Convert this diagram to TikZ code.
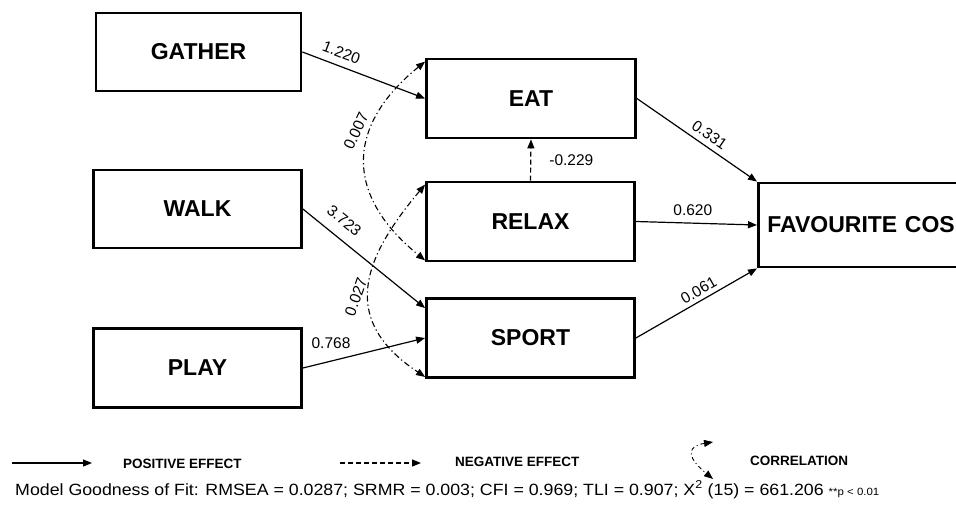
\documentclass[tikz,border=0pt]{standalone}
\usepackage{fontspec}
\setmainfont{Liberation Sans}
\usetikzlibrary{arrows.meta,calc}

\begin{document}
\begin{tikzpicture}[x=1pt,y=-1pt,
  box/.style={draw, line width=2.8pt, inner sep=0pt,
    font=\fontsize{23}{27}\selectfont\bfseries},
  tip/.tip={Triangle[length=9pt,width=7pt]},
  effect/.style={line width=1.2pt, -tip},
  negeffect/.style={effect, dash pattern=on 5pt off 3pt},
  corr/.style={line width=1.1pt, dash pattern=on 6pt off 3pt on 1.2pt off 3pt, tip-tip},
  coef/.style={font=\fontsize{15.5}{18}\selectfont, inner sep=1pt},
  legtext/.style={font=\fontsize{13.5}{16}\selectfont\bfseries, anchor=west, inner sep=0pt},
]
\useasboundingbox (0,0) rectangle (956,509);
\clip (0,0) rectangle (956,509);

% exogenous activities
\node[box, minimum width=205pt, minimum height=78pt] (gather) at (198.5,52) {GATHER};
\node[box, minimum width=208pt, minimum height=78pt] (walk)   at (197.5,209) {WALK};
\node[box, minimum width=208pt, minimum height=79pt] (play)   at (197.5,368) {PLAY};

% mediators
\node[box, minimum width=209pt, minimum height=79pt] (eat)   at (531,98.5) {EAT};
\node[box, minimum width=208pt, minimum height=79pt] (relax) at (530.5,221.5) {RELAX};
\node[box, minimum width=208pt, minimum height=79pt] (sport) at (530.5,338) {SPORT};

% outcome
\node[box, anchor=west, inner xsep=9pt, minimum height=84pt, text width=200pt, align=left]
  (fav) at (757,225) {FAVOURITE COS};

% direct paths
\draw[effect] (gather.east) -- node[coef, sloped, above=6pt, pos=0.28] (l1) {1.220} (eat.west);
\draw[effect] (walk.east) -- node[coef, sloped, above=10pt, pos=0.25] (l2) {3.723} ([yshift=-11pt]sport.north west);
\draw[effect] (play.east) -- node[coef, above=11pt, pos=0.23] (l3) {0.768} (sport.west);
\draw[negeffect] (relax.north) -- node[coef, right=17pt, midway] (l4) {-0.229} (eat.south);
\draw[effect] (eat.east) -- node[coef, sloped, above=4.5pt, pos=0.55] (l5) {0.331} (fav.north west);
\draw[effect] (relax.east) -- node[coef, above=5.5pt, pos=0.47] (l6) {0.620} (fav.west);
\draw[effect] (sport.east) -- node[coef, sloped, above=3pt, pos=0.56] (l7) {0.061} (fav.south west);

% correlations
\draw[corr] ([yshift=-4pt]eat.north west) .. controls +(-80,65) and +(-80,-65) .. ([yshift=2pt]relax.south west);
\draw[corr] ([yshift=-4pt]relax.north west) .. controls +(-65,77) and +(-84,-56) .. ([yshift=2pt]sport.south west);
\node[coef, rotate=65] (r1) at (356,131) {0.007};
\node[coef, rotate=70] (r2) at (356,297) {0.027};

% legend
\coordinate (p1) at (12,463);
\coordinate (p2) at (92,463);
\draw[effect] (p1) -- (p2);
\node[legtext] (lpos) at (123,464) {POSITIVE EFFECT};
\coordinate (n1) at (340,463);
\coordinate (n2) at (421,463);
\draw[negeffect] (n1) -- (n2);
\node[legtext] (lneg) at (455,462) {NEGATIVE EFFECT};
\coordinate (c1) at (713,442);
\coordinate (c2) at (713,479);
\draw[corr, line width=0.9pt, dash pattern=on 4pt off 3pt on 1pt off 3pt] (c1) .. controls +(-25,4) and +(-28,-23) .. (c2);
\node[legtext] (lcor) at (750,461) {CORRELATION};

% fit indices
\node[anchor=base west, inner sep=0pt, xscale=1.09, font=\fontsize{16.3}{19}\selectfont] (fit) at (15,495)
  {Model Goodness of Fit: RMSEA = 0.0287; SRMR = 0.003; CFI = 0.969; TLI = 0.907; X\textsuperscript{2} (15) = 661.206 {\fontsize{10.5}{12}\selectfont **p < 0.01}};
\end{tikzpicture}
\end{document}
